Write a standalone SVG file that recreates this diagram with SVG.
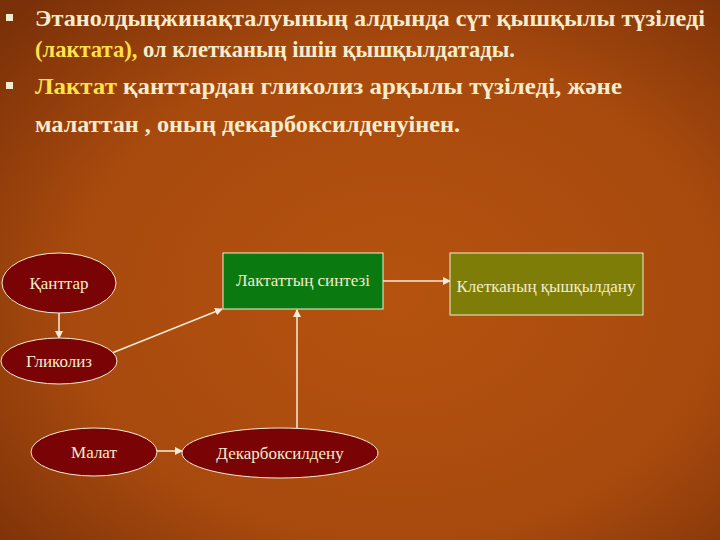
<svg xmlns="http://www.w3.org/2000/svg" width="720" height="540" viewBox="0 0 720 540">
<defs>
<radialGradient id="bg" cx="0.55" cy="0.55" r="0.75">
<stop offset="0" stop-color="#b5520f"/><stop offset="0.6" stop-color="#a84a0e"/><stop offset="1" stop-color="#7a3008"/>
</radialGradient>
<marker id="ah" markerWidth="8" markerHeight="8" refX="7" refY="4" orient="auto" markerUnits="userSpaceOnUse"><path d="M0,0 L8,4 L0,8 Z" fill="#f3ecd8"/></marker>
<style>
.t{font-family:"Liberation Serif",serif;font-weight:bold;font-size:23px;fill:#f4eccd}
.y{fill:#ffe24a}
.e{fill:#7a0306;stroke:#f3ecd8;stroke-width:1}
.n{font-family:"Liberation Serif",serif;font-size:17px;fill:#f4eccd;text-anchor:middle}
.c{stroke:#f3ecd8;stroke-width:1.5;fill:none;marker-end:url(#ah)}
</style>
</defs>
<rect width="720" height="540" fill="url(#bg)"/>
<rect x="6" y="14" width="7" height="7" fill="#f4eccd"/>
<rect x="6" y="82" width="7" height="7" fill="#f4eccd"/>
<text class="t" x="35" y="26" textLength="670" lengthAdjust="spacingAndGlyphs">Этанолдыңжинақталуының алдында сүт қышқылы түзіледі</text>
<text class="t" x="35" y="57" textLength="480" lengthAdjust="spacingAndGlyphs"><tspan class="y">(лактата),</tspan> ол клетканың ішін қышқылдатады.</text>
<text class="t" x="35" y="94" textLength="587" lengthAdjust="spacingAndGlyphs"><tspan class="y">Лактат</tspan>  қанттардан  гликолиз  арқылы түзіледі, және</text>
<text class="t" x="35" y="132" textLength="425" lengthAdjust="spacingAndGlyphs">малаттан , оның декарбоксилденуінен.</text>
<g id="connectors">
<line class="c" x1="59" y1="313" x2="59" y2="338"/>
<line class="c" x1="112" y1="353" x2="222" y2="309"/>
<line class="c" x1="297" y1="428" x2="297" y2="310"/>
<line class="c" x1="383" y1="281" x2="450" y2="281"/>
<line class="c" x1="157" y1="451" x2="182" y2="451"/>
</g>
<g id="kanttar"><ellipse class="e" cx="59" cy="283" rx="57" ry="30"/><text class="n" x="59" y="289">Қанттар</text></g>
<g id="glikoliz"><ellipse class="e" cx="59" cy="361" rx="58" ry="23"/><text class="n" x="59" y="367">Гликолиз</text></g>
<g id="malat"><ellipse class="e" cx="94" cy="452" rx="63" ry="24"/><text class="n" x="94" y="458">Малат</text></g>
<g id="dekarb"><ellipse class="e" cx="280" cy="453" rx="98" ry="25"/><text class="n" x="280" y="459">Декарбоксилдену</text></g>
<g id="sintez"><rect x="223" y="253" width="160" height="56" fill="#0a7a10" stroke="#f3ecd8"/><text class="n" x="303" y="286">Лактаттың синтезі</text></g>
<g id="kyshkyl"><rect x="450" y="253" width="193" height="62" fill="#7d7d08" stroke="#f3ecd8"/><text class="n" x="546" y="292">Клетканың қышқылдану</text></g>
</svg>
